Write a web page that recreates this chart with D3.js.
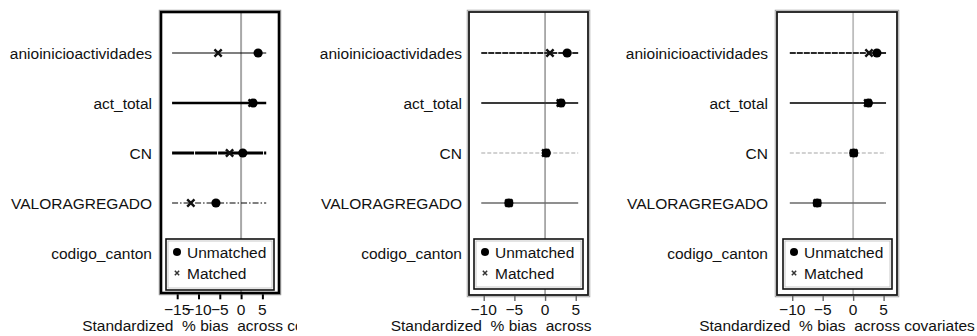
<!DOCTYPE html>
<html>
<head>
<meta charset="utf-8">
<script src="https://cdn.jsdelivr.net/npm/d3@7/dist/d3.min.js"></script>
<style>
  html, body { margin: 0; padding: 0; background: #fff; }
  svg { display: block; }
  text { font-family: "Liberation Sans", Arial, Helvetica, sans-serif; fill: #111; }
</style>
</head>
<body>
<svg id="chart" width="977" height="336"></svg>
<script>
// Covariates shown on every panel (top to bottom)
const covariates = ["anioinicioactividades", "act_total", "CN", "VALORAGREGADO", "codigo_canton"];

// Standardized % bias before matching, one array per panel
const unmatchedP1 = [4.0, 2.8, 0.4, -5.9, null];
const unmatchedP2 = [3.6, 2.6, 0.2, -5.9, null];
const unmatchedP3 = [3.9, 2.5, 0.1, -5.9, null];

// Standardized % bias after matching
const matchedP1 = [-5.4, 2.6, -2.7, -11.8, null];
const matchedP2 = [0.8, 2.5, 0.1, -5.9, null];
const matchedP3 = [2.6, 2.4, 0.1, -5.9, null];

// Axis domain and the extent covered by the dot-plot guide lines
const domainP1 = [-18.8, 8.9];
const domainP2 = [-12.4, 7.0];
const domainP3 = [-12.5, 7.2];
const guideP1 = [-16.2, 5.9];
const guideP2 = [-10.4, 5.4];
const guideP3 = [-10.4, 5.4];

// Tick labels
const ticksP1 = [-15, -10, -5, 0, 5];
const ticksP2 = [-10, -5, 0, 5];
const ticksP3 = [-10, -5, 0, 5];

const legendLabels = ["Unmatched", "Matched"];
const xTitle = "Standardized  % bias  across covariates";

// Per-panel layout and styling
const panels = [
  {
    unmatched: unmatchedP1, matched: matchedP1, domain: domainP1, guide: guideP1, ticks: ticksP1,
    frame: { x0: 161, x1: 279, y0: 12, y1: 293 }, labelRight: 152, titleClip: [0, 297],
    frameStroke: "#000", frameWidth: 2.6, zeroColor: "#a8a8a8", zeroWidth: 2, tickColor: "#000", tickWidth: 2,
    legend: { x0: 166, x1: 274, y0: 239, y1: 290 },
    lineStyles: [
      { color: "#000", width: 1.2, dash: null },
      { color: "#000", width: 2.6, dash: null },
      { color: "#000", width: 3, dash: "22,1" },
      { color: "#000", width: 1, dash: "6,2,1.5,2" },
      { color: "#000", width: 1, dash: null }
    ]
  },
  {
    unmatched: unmatchedP2, matched: matchedP2, domain: domainP2, guide: guideP2, ticks: ticksP2,
    frame: { x0: 469, x1: 588, y0: 12, y1: 295 }, labelRight: 462, titleClip: [300, 594],
    frameStroke: "#1a1a1a", frameWidth: 1.8, zeroColor: "#8c8c8c", zeroWidth: 1.4, tickColor: "#666", tickWidth: 1.4,
    legend: { x0: 474, x1: 583, y0: 239, y1: 289 },
    lineStyles: [
      { color: "#2a2a2a", width: 2, dash: "6,1" },
      { color: "#3a3a3a", width: 2, dash: null },
      { color: "#c4c4c4", width: 1.4, dash: "4,2" },
      { color: "#6a6a6a", width: 1.4, dash: null },
      { color: "#6a6a6a", width: 1.4, dash: null }
    ]
  },
  {
    unmatched: unmatchedP3, matched: matchedP3, domain: domainP3, guide: guideP3, ticks: ticksP3,
    frame: { x0: 777, x1: 897, y0: 12, y1: 295 }, labelRight: 768, titleClip: [620, 977],
    frameStroke: "#1a1a1a", frameWidth: 1.8, zeroColor: "#bdbdbd", zeroWidth: 1.8, tickColor: "#666", tickWidth: 1.4,
    legend: { x0: 783, x1: 892, y0: 239, y1: 289 },
    lineStyles: [
      { color: "#2a2a2a", width: 2, dash: "6,1" },
      { color: "#3a3a3a", width: 2, dash: null },
      { color: "#c4c4c4", width: 1.4, dash: "4,2" },
      { color: "#6a6a6a", width: 1.4, dash: null },
      { color: "#6a6a6a", width: 1.4, dash: null }
    ]
  }
];

const svg = d3.select("#chart");
const defs = svg.append("defs");
const fontSize = 15.5;

function addText(g, str, x, y, anchor, size) {
  return g.append("text")
    .attr("x", x).attr("y", y)
    .attr("text-anchor", anchor)
    .style("font-size", size + "px")
    .style("white-space", "pre")
    .text(str);
}

const y = d3.scalePoint().domain(covariates).range([53, 253]);
const xMarker = d3.symbol().type(d3.symbolX).size(36);

panels.forEach((p, i) => {
  const g = svg.append("g").attr("class", "panel-" + i);
  const f = p.frame;
  const x = d3.scaleLinear().domain(p.domain).range([f.x0, f.x1]);

  // plot region
  g.append("rect").attr("x", f.x0).attr("y", f.y0).attr("width", f.x1 - f.x0).attr("height", f.y1 - f.y0)
    .attr("fill", "#fff");

  // reference line at zero
  g.append("line").attr("x1", x(0)).attr("x2", x(0)).attr("y1", f.y0).attr("y2", f.y1)
    .attr("stroke", p.zeroColor).attr("stroke-width", p.zeroWidth);

  // dot-plot guide lines, one per covariate
  g.selectAll(".guide").data(covariates).join("line")
    .attr("class", "guide")
    .attr("x1", x(p.guide[0])).attr("x2", x(p.guide[1]))
    .attr("y1", d => y(d)).attr("y2", d => y(d))
    .attr("stroke", (d, j) => p.lineStyles[j].color)
    .attr("stroke-width", (d, j) => p.lineStyles[j].width)
    .attr("stroke-dasharray", (d, j) => p.lineStyles[j].dash);

  // matched markers (x)
  const mData = covariates.map((c, j) => ({ c, v: p.matched[j] })).filter(d => d.v !== null);
  g.selectAll(".matched").data(mData).join("path")
    .attr("class", "matched")
    .attr("d", xMarker)
    .attr("transform", d => `translate(${x(d.v)},${y(d.c)})`)
    .attr("fill", "none").attr("stroke", "#111").attr("stroke-width", 2.4);

  // unmatched markers (filled circle)
  const uData = covariates.map((c, j) => ({ c, v: p.unmatched[j] })).filter(d => d.v !== null);
  g.selectAll(".unmatched").data(uData).join("circle")
    .attr("class", "unmatched")
    .attr("cx", d => x(d.v)).attr("cy", d => y(d.c)).attr("r", 4.6)
    .attr("fill", "#000");

  // legend
  const L = p.legend;
  const lg = g.append("g");
  lg.append("rect").attr("x", L.x0).attr("y", L.y0).attr("width", L.x1 - L.x0).attr("height", L.y1 - L.y0)
    .attr("fill", "#fff").attr("stroke", "#111").attr("stroke-width", 1.6);
  lg.append("rect").attr("x", L.x0 + 2).attr("y", L.y0 + 2).attr("width", L.x1 - L.x0 - 4).attr("height", L.y1 - L.y0 - 4)
    .attr("fill", "none").attr("stroke", "#bbb").attr("stroke-width", 0.8);
  lg.append("circle").attr("cx", L.x0 + 11).attr("cy", L.y0 + 13).attr("r", 4).attr("fill", "#000");
  lg.append("path").attr("d", d3.symbol().type(d3.symbolX).size(14))
    .attr("transform", `translate(${L.x0 + 11},${L.y0 + 34})`)
    .attr("fill", "none").attr("stroke", "#333").attr("stroke-width", 1.5);
  addText(lg, legendLabels[0], L.x0 + 21, L.y0 + 19, "start", fontSize);
  addText(lg, legendLabels[1], L.x0 + 21, L.y0 + 40, "start", fontSize);

  // frame
  g.append("rect").attr("x", f.x0 - 1.8).attr("y", f.y0 - 1.8).attr("width", f.x1 - f.x0 + 3.6).attr("height", f.y1 - f.y0 + 3.6)
    .attr("fill", "none").attr("stroke", "#9a9a9a").attr("stroke-width", 0.9);
  g.append("rect").attr("x", f.x0).attr("y", f.y0).attr("width", f.x1 - f.x0).attr("height", f.y1 - f.y0)
    .attr("fill", "none").attr("stroke", p.frameStroke).attr("stroke-width", p.frameWidth);

  // x axis ticks
  const axis = d3.axisBottom(x).tickValues(p.ticks).tickSize(5).tickFormat("");
  const ax = g.append("g").attr("transform", `translate(0,${f.y1 + p.frameWidth / 2})`).call(axis);
  ax.select(".domain").remove();
  ax.selectAll(".tick line").attr("stroke", p.tickColor).attr("stroke-width", p.tickWidth);
  const fmt = d3.format("");
  p.ticks.forEach(t => {
    addText(g, fmt(t).replace("-", "\u2212"), x(t), 315, "middle", fontSize);
  });

  // covariate labels
  covariates.forEach(c => addText(g, c, p.labelRight, y(c) + 5.5, "end", fontSize));

  // x title, cut at the panel's right edge
  const clipId = "clip-title-" + i;
  defs.append("clipPath").attr("id", clipId).append("rect")
    .attr("x", p.titleClip[0]).attr("y", 300).attr("width", p.titleClip[1] - p.titleClip[0]).attr("height", 36);
  const tg = g.append("g").attr("clip-path", `url(#${clipId})`);
  addText(tg, xTitle, (f.x0 + f.x1) / 2, 331, "middle", fontSize);
});
</script>
</body>
</html>
